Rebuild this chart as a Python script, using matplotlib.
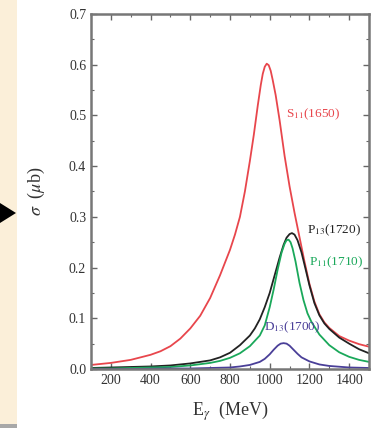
import matplotlib
matplotlib.use("Agg")
import matplotlib.pyplot as plt
from matplotlib.patches import Rectangle, Polygon
from matplotlib.ticker import MultipleLocator

plt.rcParams["font.family"] = ["Liberation Serif", "DejaVu Serif"]
plt.rcParams["mathtext.fontset"] = "stix"

# photon energy (MeV) and cross sections (micro-barn)
e_s11 = [100, 200, 300, 400, 450, 500, 550, 600, 650, 700, 750, 800, 825, 850,
         875, 900, 920, 940, 955, 965, 975, 985, 995, 1005, 1015, 1030, 1050,
         1075, 1100, 1125, 1150, 1175, 1200, 1225, 1250, 1275, 1300, 1350,
         1400, 1450, 1500]
s11 = [0.008, 0.012, 0.018, 0.028, 0.035, 0.045, 0.060, 0.080, 0.105, 0.140,
       0.185, 0.235, 0.265, 0.300, 0.350, 0.410, 0.462, 0.520, 0.560, 0.582,
       0.596, 0.602, 0.599, 0.588, 0.570, 0.540, 0.490, 0.420, 0.360, 0.308,
       0.260, 0.212, 0.168, 0.133, 0.108, 0.092, 0.081, 0.065, 0.056, 0.049,
       0.044]

e_p13 = [100, 200, 300, 400, 500, 600, 700, 750, 800, 850, 900, 925, 950, 975,
         1000, 1025, 1050, 1070, 1085, 1100, 1112, 1125, 1140, 1160, 1180,
         1200, 1225, 1250, 1275, 1300, 1350, 1400, 1450, 1500]
p13 = [0.002, 0.003, 0.004, 0.005, 0.007, 0.011, 0.017, 0.023, 0.032, 0.047,
       0.066, 0.080, 0.098, 0.122, 0.150, 0.185, 0.220, 0.245, 0.259, 0.266,
       0.268, 0.265, 0.254, 0.230, 0.198, 0.165, 0.130, 0.106, 0.090, 0.079,
       0.062, 0.050, 0.039, 0.031]

e_p11 = [100, 200, 300, 400, 500, 600, 700, 750, 800, 850, 900, 950, 975,
         1000, 1020, 1040, 1060, 1075, 1085, 1095, 1105, 1115, 1130, 1150,
         1170, 1190, 1210, 1250, 1300, 1350, 1400, 1450, 1500]
p11 = [0.001, 0.001, 0.002, 0.003, 0.004, 0.007, 0.012, 0.016, 0.022, 0.031,
       0.045, 0.066, 0.086, 0.122, 0.157, 0.196, 0.230, 0.247, 0.254, 0.255,
       0.250, 0.238, 0.212, 0.170, 0.136, 0.110, 0.093, 0.068, 0.047, 0.033,
       0.024, 0.018, 0.014]

e_d13 = [100, 300, 500, 600, 700, 800, 850, 900, 950, 975, 1000, 1020, 1040,
         1055, 1070, 1085, 1100, 1120, 1140, 1160, 1200, 1250, 1300, 1400,
         1500]
d13 = [0.000, 0.000, 0.001, 0.001, 0.002, 0.003, 0.005, 0.008, 0.014, 0.020,
       0.029, 0.038, 0.046, 0.050, 0.051, 0.050, 0.046, 0.038, 0.030, 0.023,
       0.015, 0.009, 0.006, 0.003, 0.002]

W, H = 383, 429
fig = plt.figure(figsize=(W / 100, H / 100), dpi=100, facecolor="white")

# slide decoration on the left edge
fig.patches.append(Rectangle((0, 5 / H), 17 / W, 1 - 5 / H, transform=fig.transFigure,
                             facecolor="#fbefd9", edgecolor="none"))
fig.patches.append(Rectangle((0, 1 / H), 17 / W, 4 / H, transform=fig.transFigure,
                             facecolor="#a8a8a8", edgecolor="none"))
fig.patches.append(Polygon([(0, (H - 203) / H), (0, (H - 223) / H), (16 / W, (H - 213) / H)],
                           closed=True, transform=fig.transFigure,
                           facecolor="black", edgecolor="none"))

ax = fig.add_axes([91 / W, 60 / H, 278 / W, 355 / H])

ax.plot(e_s11, s11, color="#e8464c", lw=1.3)
ax.plot(e_p13, p13, color="#222222", lw=1.3)
ax.plot(e_p11, p11, color="#1aa85a", lw=1.3)
ax.plot(e_d13, d13, color="#4a3f98", lw=1.3)

ax.text(1080, 0.503, r"S$_{11}$(1650)", color="#e8464c", fontsize=9.5, va="center")
ax.text(1190, 0.274, r"P$_{13}$(1720)", color="#222222", fontsize=9.5, va="center")
ax.text(1197, 0.211, r"P$_{11}$(1710)", color="#1aa85a", fontsize=9.5, va="center")
ax.text(970, 0.083, r"D$_{13}$(1700)", color="#4a3f98", fontsize=9.5, va="center")

ax.set_xlim(100, 1500)
ax.set_ylim(0, 0.7)
ax.xaxis.set_minor_locator(MultipleLocator(100))
ax.yaxis.set_major_locator(MultipleLocator(0.1))
ax.yaxis.set_minor_locator(MultipleLocator(0.05))
ax.yaxis.set_major_formatter(plt.FormatStrFormatter("%.1f"))
ax.set_xticks([200, 400, 600, 800, 1000, 1200, 1400])

ax.tick_params(which="both", direction="in", top=True, right=True,
               color="#666666", labelsize=10, labelcolor="#333333")
ax.tick_params(which="major", length=4, width=1)
ax.tick_params(which="minor", length=2, width=0.8)
for sp in ax.spines.values():
    sp.set_color("#777777")
    sp.set_linewidth(1.8)

ax.set_xlabel(r"E$_\gamma$  (MeV)", fontsize=13, color="#333333", labelpad=9)
ax.set_ylabel(r"$\sigma$  ($\mu$b)", fontsize=13, color="#333333", labelpad=16)

fig.savefig("out.png", dpi=100, facecolor="white")
